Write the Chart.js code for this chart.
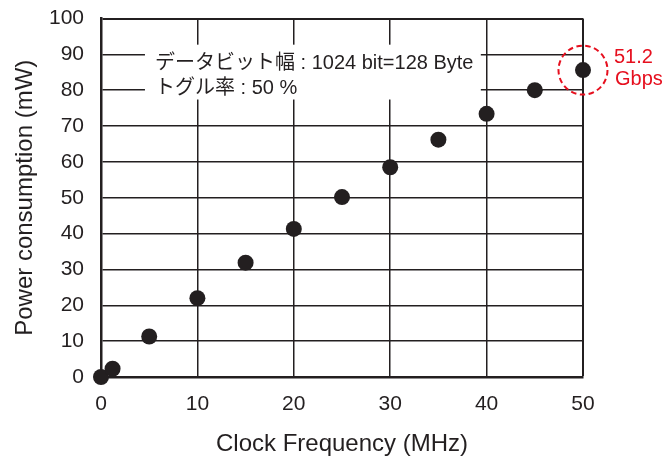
<!DOCTYPE html>
<html>
<head>
<meta charset="utf-8">
<script src="https://cdn.jsdelivr.net/npm/chart.js@4.4.1/dist/chart.umd.min.js"></script>
<style>
  html, body { margin: 0; padding: 0; background: #ffffff; }
  #wrap { width: 664px; height: 457px; }
</style>
</head>
<body>
<div id="wrap"><canvas id="c" width="664" height="457"></canvas></div>
<script>
// ---- data ----
const freqMHz  = [0, 1.2, 5, 10, 15, 20, 25, 30, 35, 40, 45, 50];
const powerMW  = [0, 2.3, 11.3, 22, 31.9, 41.3, 50.2, 58.5, 66.2, 73.4, 80, 85.6];
const xTickValues = [0, 10, 20, 30, 40, 50];
const yTickValues = [0, 10, 20, 30, 40, 50, 60, 70, 80, 90, 100];
const xTitle = 'Clock Frequency (MHz)';
const yTitle = 'Power consumption (mW)';
const noteLines = ['データビット幅 : 1024 bit=128 Byte', 'トグル率 : 50 %'];
const highlightLabel = ['51.2', 'Gbps'];

const INK = '#231f20';
const RED = '#e60f1e';
const FONT = "'Liberation Sans', 'Noto Sans CJK JP', Arial, sans-serif";

const annotationPlugin = {
  id: 'notes',
  beforeDatasetsDraw(chart) {
    const ctx = chart.ctx, xs = chart.scales.x, ys = chart.scales.y;
    // white note box covering the grid
    const x0 = xs.getPixelForValue(4.56), x1 = xs.getPixelForValue(39.4);
    const y0 = ys.getPixelForValue(92.7), y1 = ys.getPixelForValue(77.4);
    ctx.save();
    ctx.fillStyle = '#ffffff';
    ctx.fillRect(x0, y0, x1 - x0, y1 - y0);
    ctx.fillStyle = INK;
    ctx.font = '20px ' + FONT;
    ctx.textBaseline = 'alphabetic';
    ctx.textAlign = 'left';
    const tx = xs.getPixelForValue(5.6);
    ctx.fillText(noteLines[0], tx, ys.getPixelForValue(85.9));
    ctx.fillText(noteLines[1], tx, ys.getPixelForValue(78.9));
    ctx.restore();
  },
  afterDatasetsDraw(chart) {
    const ctx = chart.ctx, xs = chart.scales.x, ys = chart.scales.y;
    const i = freqMHz.length - 1;
    const px = xs.getPixelForValue(freqMHz[i]);
    const py = ys.getPixelForValue(powerMW[i]);
    ctx.save();
    ctx.strokeStyle = RED;
    ctx.lineWidth = 2;
    ctx.setLineDash([5.5, 3.5]);
    ctx.beginPath();
    ctx.arc(px, py, 24.5, 0, Math.PI * 2);
    ctx.stroke();
    ctx.setLineDash([]);
    ctx.fillStyle = RED;
    ctx.font = '20px ' + FONT;
    ctx.textAlign = 'left';
    ctx.textBaseline = 'alphabetic';
    ctx.fillText(highlightLabel[0], px + 31, py - 7.5);
    ctx.fillText(highlightLabel[1], px + 32, py + 14.5);
    ctx.restore();
  }
};

const points = freqMHz.map((f, k) => ({ x: f, y: powerMW[k] }));

new Chart(document.getElementById('c'), {
  type: 'scatter',
  data: {
    datasets: [{
      data: points,
      backgroundColor: INK,
      borderWidth: 0,
      pointRadius: 8,
      pointHoverRadius: 8,
      clip: false
    }]
  },
  options: {
    responsive: false,
    animation: false,
    devicePixelRatio: 1,
    layout: { padding: { top: 18.5, right: 81, left: 0, bottom: 0 } },
    plugins: { legend: { display: false }, tooltip: { enabled: false } },
    scales: {
      x: {
        type: 'linear',
        min: 0, max: 50,
        afterBuildTicks(s) { s.ticks = xTickValues.map(v => ({ value: v })); },
        afterFit(s) { s.height = 80; s.paddingLeft = 0; s.paddingRight = 0; },
        grid: {
          color: INK,
          lineWidth: c => (c.tick && c.tick.value === 50 ? 2 : 1.5),
          drawTicks: false
        },
        border: { display: true, color: INK, width: 2.5 },
        ticks: {
          color: INK,
          padding: 15,
          font: { family: FONT, size: 21 },
          maxRotation: 0,
          autoSkip: false,
          callback: v => String(v)
        },
        title: {
          display: true,
          text: xTitle,
          color: INK,
          font: { family: FONT, size: 24, lineHeight: 1 },
          padding: { top: 0, bottom: 1 }
        }
      },
      y: {
        type: 'linear',
        min: 0, max: 100,
        afterBuildTicks(s) { s.ticks = yTickValues.map(v => ({ value: v })); },
        afterFit(s) { s.width = 101; s.paddingTop = 0; s.paddingBottom = 0; },
        grid: {
          color: INK,
          lineWidth: c => (c.tick && c.tick.value === 100 ? 2 : 1.5),
          drawTicks: false
        },
        border: { display: true, color: INK, width: 2.5 },
        ticks: {
          color: INK,
          padding: 17,
          font: { family: FONT, size: 21 },
          autoSkip: false,
          callback: v => String(v)
        },
        title: {
          display: true,
          text: yTitle,
          color: INK,
          font: { family: FONT, size: 24, lineHeight: 1.2 },
          padding: { top: 11, bottom: 0 }
        }
      }
    }
  },
  plugins: [annotationPlugin]
});
</script>
</body>
</html>
